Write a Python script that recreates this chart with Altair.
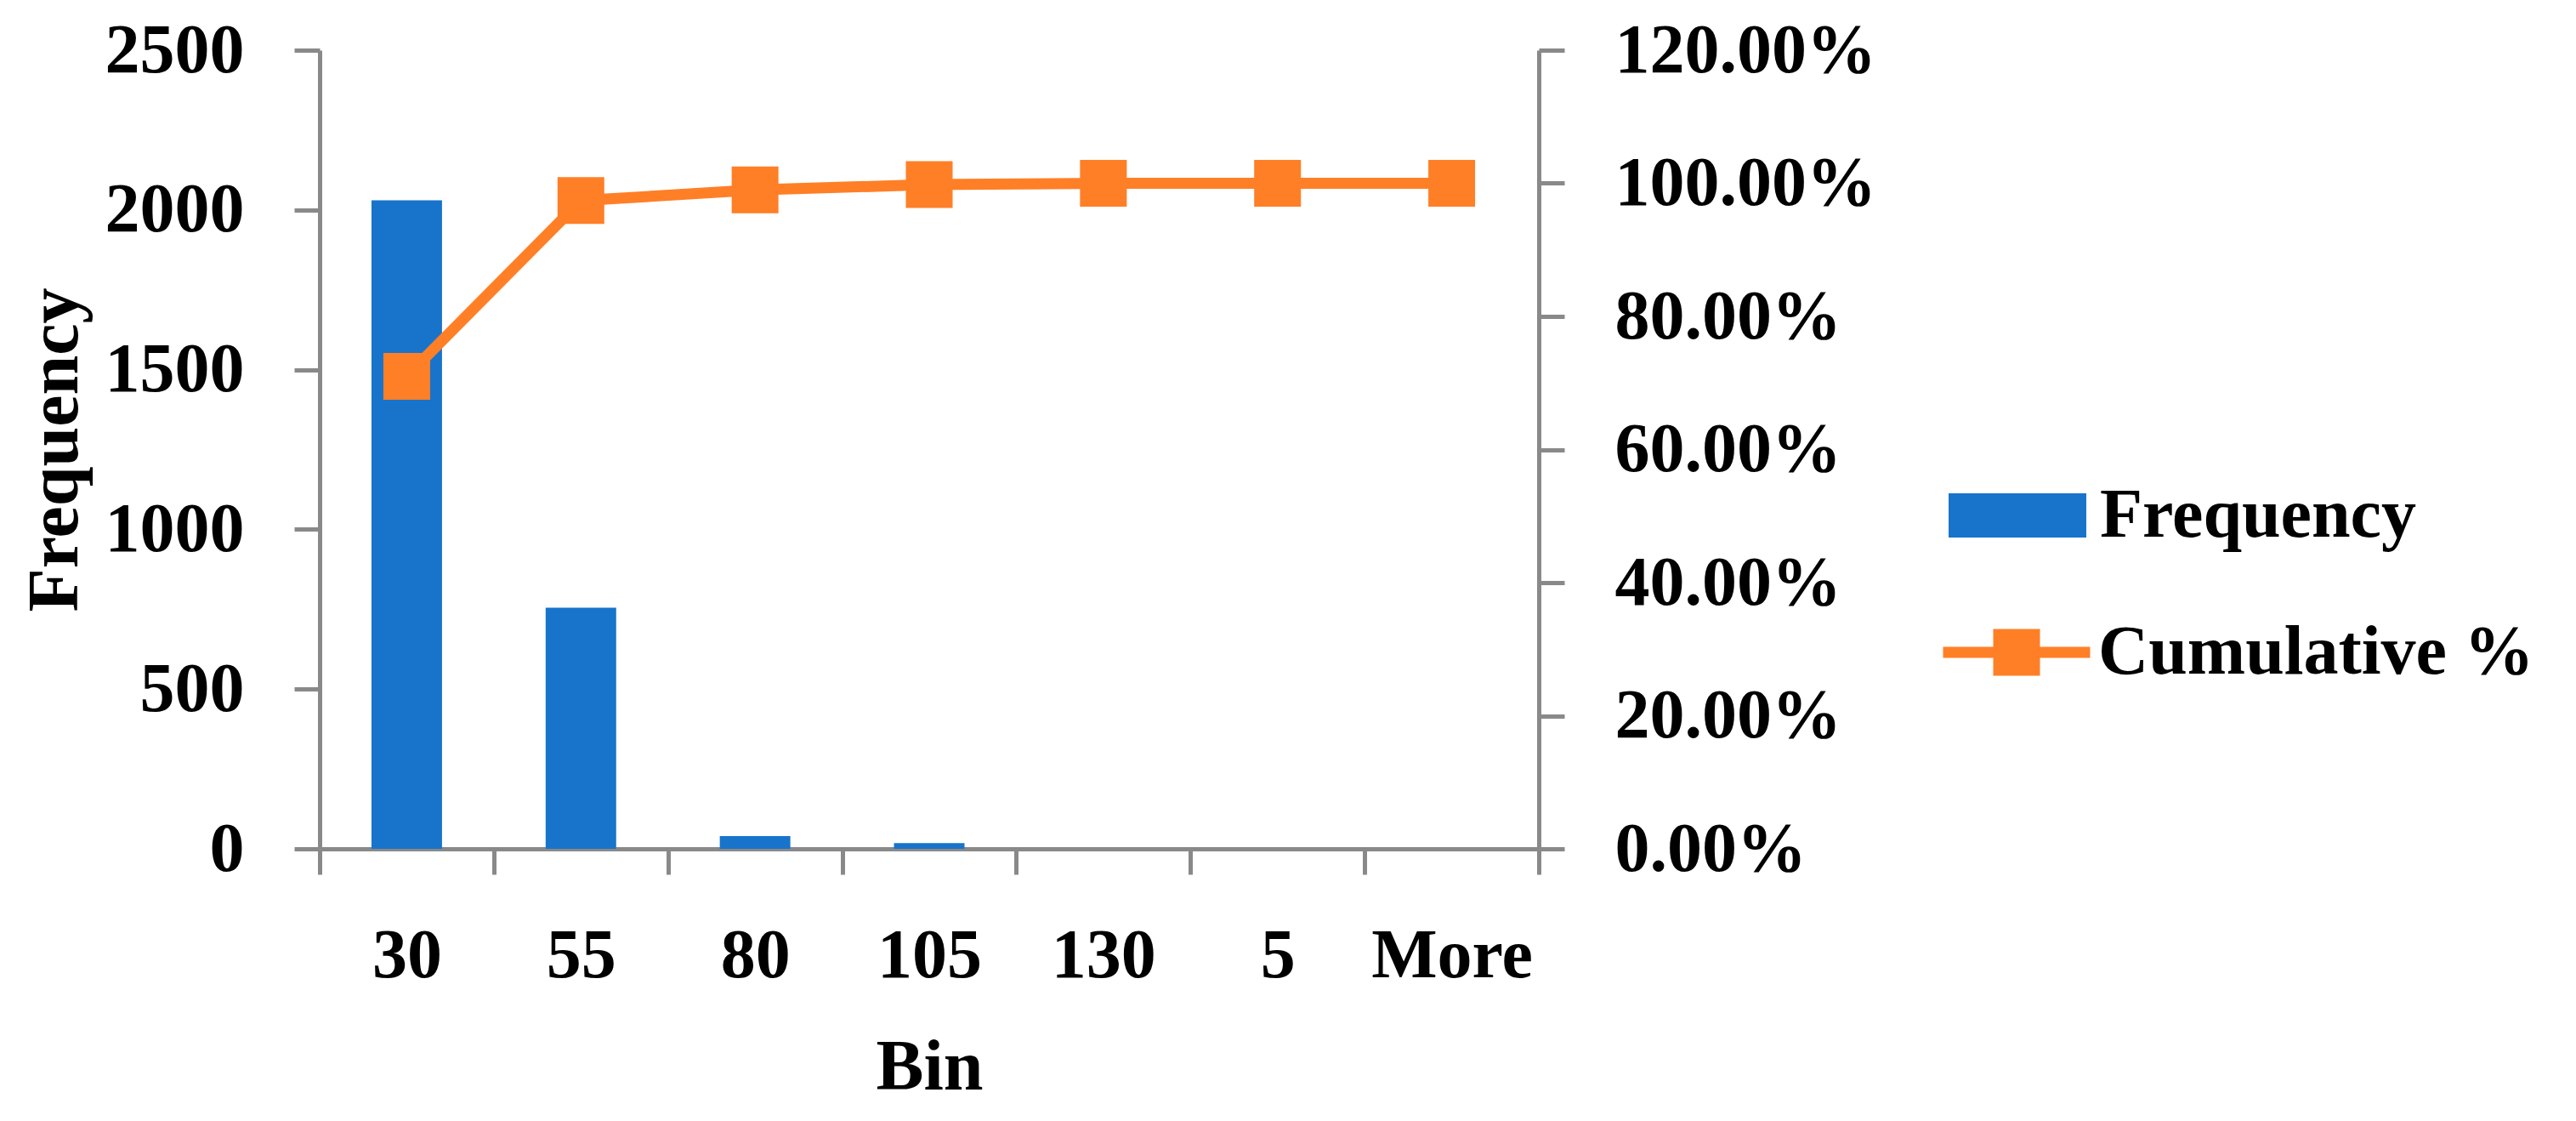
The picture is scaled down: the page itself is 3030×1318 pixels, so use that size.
import altair as alt
import pandas as pd

bins = ["30", "55", "80", "105", "130", "5", "More"]
frequency = [2030, 755, 40, 18, 0, 0, 0]
cumulative_pct = [71.0, 97.4, 99.0, 99.8, 100.0, 100.0, 100.0]

df = pd.DataFrame({"Bin": bins, "Frequency": frequency, "Cum": cumulative_pct})

BLUE = "#1874CB"
ORANGE = "#FF7F27"
GRAY = "#898989"
FONT = "Liberation Serif"
FS = 82

x_enc = alt.X(
    "Bin:N",
    sort=bins,
    scale=alt.Scale(paddingInner=0, paddingOuter=0),
    axis=alt.Axis(
        title="Bin",
        labelAngle=0,
        tickBand="extent",
        tickSize=30,
        tickWidth=5,
        tickColor=GRAY,
        domainColor=GRAY,
        domainWidth=5,
        labelPadding=55,
        titlePadding=50,
        labelLimit=0,
        labelFont=FONT, labelFontSize=FS, labelFontWeight="bold", labelColor="black",
        titleFont=FONT, titleFontSize=FS + 2, titleFontWeight="bold", titleColor="black",
    ),
)

bar_path = "M-3.115,-1H3.115V1H-3.115Z"
line_path = "M-3.145,-0.236H-1V-1H1V-0.236H3.145V0.236H1V1H-1V0.236H-3.145Z"

bars = alt.Chart(df).transform_calculate(s="'Frequency'").mark_bar(
    width=alt.RelativeBandSize(0.405)
).encode(
    x=x_enc,
    y=alt.Y(
        "Frequency:Q",
        scale=alt.Scale(domain=[0, 2500]),
        axis=alt.Axis(
            title="Frequency",
            values=[0, 500, 1000, 1500, 2000, 2500],
            format="d",
            grid=False,
            tickSize=30,
            tickWidth=5,
            tickColor=GRAY,
            domainColor=GRAY,
            domainWidth=5,
            labelPadding=59,
            titlePadding=68,
            labelLimit=0,
            labelFont=FONT, labelFontSize=FS, labelFontWeight="bold", labelColor="black",
            titleFont=FONT, titleFontSize=FS + 2, titleFontWeight="bold", titleColor="black",
        ),
    ),
    color=alt.Color(
        "s:N",
        scale=alt.Scale(domain=["Frequency"], range=[BLUE]),
        legend=alt.Legend(
            title=None,
            orient="none",
            legendX=1956,
            legendY=506,
            symbolType=bar_path,
            symbolSize=2704,
            symbolStrokeWidth=0,
            labelOffset=56,
            labelLimit=0,
            labelFont=FONT, labelFontSize=FS, labelFontWeight="bold", labelColor="black",
        ),
    ),
)

y_right = alt.Y(
    "Cum:Q",
    scale=alt.Scale(domain=[0, 120]),
    axis=alt.Axis(
        title=None,
        orient="right",
        values=[0, 20, 40, 60, 80, 100, 120],
        labelExpr="format(datum.value, '.2f') + '%'",
        grid=False,
        tickSize=30,
        tickWidth=5,
        tickColor=GRAY,
        domainColor=GRAY,
        domainWidth=5,
        labelPadding=59,
        labelLimit=0,
        labelFont=FONT, labelFontSize=FS, labelFontWeight="bold", labelColor="black",
    ),
)

line = alt.Chart(df).mark_line(
    color=ORANGE, strokeWidth=13, strokeCap="round", strokeJoin="round"
).encode(x=alt.X("Bin:N", sort=bins), y=y_right)

points = alt.Chart(df).transform_calculate(s="'Cumulative %'").mark_square(
    size=3025, opacity=1
).encode(
    x=alt.X("Bin:N", sort=bins),
    y=y_right,
    fill=alt.Fill(
        "s:N",
        scale=alt.Scale(domain=["Cumulative %"], range=[ORANGE]),
        legend=alt.Legend(
            title=None,
            orient="none",
            legendX=1955,
            legendY=667,
            symbolType=line_path,
            symbolSize=3025,
            symbolStrokeWidth=0,
            labelOffset=55,
            labelLimit=0,
            labelFont=FONT, labelFontSize=FS, labelFontWeight="bold", labelColor="black",
        ),
    ),
)

right_layer = alt.layer(line, points)

chart = alt.layer(bars, right_layer).resolve_scale(
    y="independent", color="independent", fill="independent"
).properties(
    width=1434,
    height=939,
    background="white",
    autosize=alt.AutoSizeParams(type="none"),
    padding={"left": 368, "top": 51, "right": 1190, "bottom": 312},
).configure_view(stroke=None)

chart.save("out.html", embed_options={"renderer": "svg", "actions": False})
